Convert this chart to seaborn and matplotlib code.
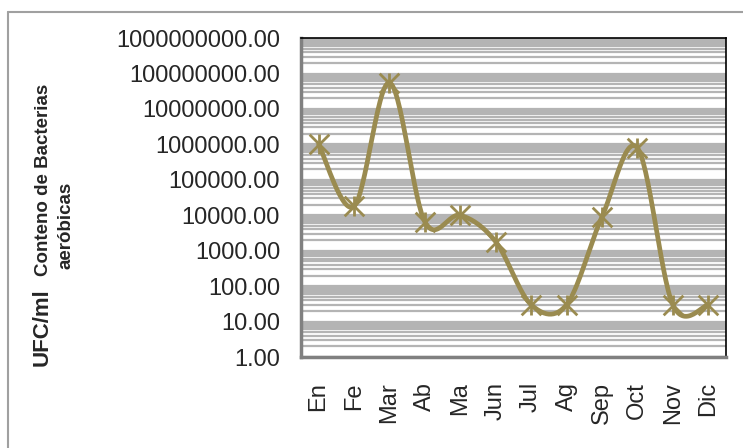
import numpy as np
import pandas as pd
import matplotlib
matplotlib.use("Agg")
import matplotlib.pyplot as plt
import seaborn as sns
from matplotlib.ticker import LogLocator, FixedLocator, FormatStrFormatter, NullFormatter
from matplotlib.lines import Line2D

# Datos del grafico
meses = ["En", "Fe", "Mar", "Ab", "Ma", "Jun", "Jul", "Ag", "Sep", "Oct", "Nov", "Dic"]
ufc = [1e6, 1.8e4, 5.5e7, 6.5e3, 1e4, 1.8e3, 30, 30, 9e3, 8e5, 30, 30]

color = "#9a8b50"
gris = "#b4b4b4"

sns.set_style("white")
plt.rcParams["font.family"] = ["Liberation Sans", "DejaVu Sans"]

# Linea suavizada tipo Excel (Bezier/Catmull-Rom en escala log)
px = np.arange(len(ufc), dtype=float)
py = np.log10(ufc)
xs, ys = [], []
for i in range(len(px) - 1):
    p0 = (px[max(i - 1, 0)], py[max(i - 1, 0)])
    p1 = (px[i], py[i])
    p2 = (px[i + 1], py[i + 1])
    p3 = (px[min(i + 2, len(px) - 1)], py[min(i + 2, len(px) - 1)])
    c1 = (p1[0] + (p2[0] - p0[0]) / 6, p1[1] + (p2[1] - p0[1]) / 6)
    c2 = (p2[0] - (p3[0] - p1[0]) / 6, p2[1] - (p3[1] - p1[1]) / 6)
    t = np.linspace(0, 1, 30, endpoint=(i == len(px) - 2))
    for a, b in [(0, xs), (1, ys)]:
        b.extend((1 - t) ** 3 * p1[a] + 3 * (1 - t) ** 2 * t * c1[a]
                 + 3 * (1 - t) * t ** 2 * c2[a] + t ** 3 * p2[a])
curva = pd.DataFrame({"x": xs, "y": 10 ** np.array(ys)})
df = pd.DataFrame({"x": px, "y": ufc})

fig = plt.figure(figsize=(7.43, 4.48), dpi=100)
ax = fig.add_axes([0.405, 0.203, 0.572, 0.712])
ax.set_yscale("log")

sns.lineplot(data=curva, x="x", y="y", sort=False, estimator=None,
             color=color, linewidth=3.4, ax=ax, zorder=3)
sns.scatterplot(data=df, x="x", y="y", marker="x", s=200, color=color,
                linewidth=2, ax=ax, zorder=4)
sns.scatterplot(data=df, x="x", y="y", marker="|", s=220, color=color,
                linewidth=2, ax=ax, zorder=4)

ax.set_ylim(1, 1e9)
ax.set_xlim(-0.5, 11.5)
ax.yaxis.set_major_locator(LogLocator(base=10, numticks=12))
ax.yaxis.set_minor_locator(LogLocator(base=10, subs=np.arange(2, 10), numticks=12))
ax.yaxis.set_major_formatter(FormatStrFormatter("%.2f"))
ax.yaxis.set_minor_formatter(NullFormatter())
ax.xaxis.set_major_locator(FixedLocator(np.arange(-0.5, 12, 1)))
ax.xaxis.set_minor_locator(FixedLocator(px))
ax.set_xticklabels([])

# etiquetas de los meses, alineadas arriba
for x, m in zip(px, meses):
    ax.text(x, -25 / 319, m, rotation=90, fontsize=17, ha="center", va="top",
            transform=ax.get_xaxis_transform())

ax.grid(True, which="both", axis="y", color=gris, linewidth=1.6)
ax.set_axisbelow(True)
ax.tick_params(axis="y", which="major", direction="out", length=6, width=1.5,
               color="#808080", labelsize=17, pad=9)
ax.tick_params(axis="y", which="minor", direction="out", length=3, width=1,
               color="#808080")
ax.tick_params(axis="x", which="both", direction="out", length=6, width=1.5,
               color="#808080")
ax.set_xlabel("")
ax.set_ylabel("")

for s in ["left", "bottom"]:
    ax.spines[s].set_color("#808080")
    ax.spines[s].set_linewidth(2.5)
for s in ["top", "right"]:
    ax.spines[s].set_color("black")
    ax.spines[s].set_linewidth(1.2)

# Titulo del eje Y
fig.text(42 / 743, 1 - 327 / 448, "UFC/ml", rotation=90, fontsize=16,
         fontweight="bold", ha="center", va="center")
fig.text(44 / 743, 1 - 180 / 448, "Conteno de Bacterias", rotation=90,
         fontsize=13.5, fontweight="bold", ha="center", va="center")
fig.text(66 / 743, 1 - 225 / 448, "aeróbicas", rotation=90,
         fontsize=13.5, fontweight="bold", ha="center", va="center")

# Borde del area del grafico
fig.add_artist(Line2D([8 / 743, 8 / 743], [0, 1 - 12 / 448], color="#a0a0a0",
                      linewidth=1.5, transform=fig.transFigure))
fig.add_artist(Line2D([8 / 743, 1], [1 - 12 / 448, 1 - 12 / 448], color="#a0a0a0",
                      linewidth=1.5, transform=fig.transFigure))

fig.savefig("out.png", dpi=100)
